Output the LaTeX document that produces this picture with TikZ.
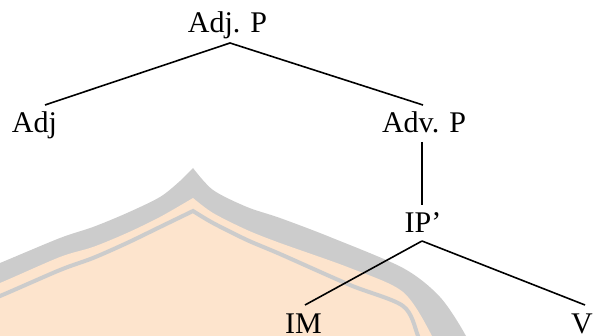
\documentclass[tikz,border=0pt]{standalone}
\usepackage{fontspec}
\setmainfont{Liberation Serif}
\definecolor{wmgray}{RGB}{204,204,204}
\definecolor{wmpeach}{RGB}{253,228,205}
\begin{document}
\begin{tikzpicture}[x=1pt,y=-1pt,
  lbl/.style={font=\fontsize{30}{36}\selectfont, inner sep=0pt, anchor=base},
  edge/.style={line width=1.6pt}]
\useasboundingbox (0,0) rectangle (593,336);
\begin{scope}
\clip (0,0) rectangle (593,336);
\fill[wmgray] plot[smooth,tension=0.5] coordinates {(-30,275) (0,263) (60,238) (93,227) (127,213) (160,197) (180,181) (193,168)}
  -- plot[smooth,tension=0.5] coordinates {(193,168) (213,190) (247,207) (280,218) (330,237) (403,268) (440,297) (466,336) (480,370)}
  -- (480,400) -- (-30,400) -- cycle;
\fill[wmpeach] plot[smooth,tension=0.5] coordinates {(-30,294) (0,283) (60,257) (93,247) (127,233) (160,217) (193,198)}
  -- plot[smooth,tension=0.5] coordinates {(193,198) (213,213) (247,230) (280,243) (350,268) (403,292) (432,336) (445,370)}
  -- (445,400) -- (-30,400) -- cycle;
\draw[wmgray, line width=4pt] plot[smooth,tension=0.5] coordinates {(-30,307) (0,296) (60,270) (93,258) (127,243) (160,227) (193,211)}
  -- plot[smooth,tension=0.5] coordinates {(193,211) (213,223) (247,240) (280,254) (350,285) (403,306) (418,336) (428,370)};
\end{scope}
\node[lbl] (adjp) at (227.5,33) {Adj. P};
\node[lbl] (adj) at (34.5,133) {Adj};
\node[lbl] (advp) at (424,133) {Adv. P};
\node[lbl] (ipp) at (423,233) {IP’};
\node[lbl] (im) at (303.5,333) {IM};
\node[lbl] (v) at (582,333) {V};
\draw[edge] ([shift={(2.5,10)}]adjp.base) -- ([shift={(10.5,-28)}]adj.base);
\draw[edge] ([shift={(2.5,10)}]adjp.base) -- ([shift={(-1,-28)}]advp.base);
\draw[edge] ([shift={(-2,9)}]advp.base) -- ([shift={(-1,-28)}]ipp.base);
\draw[edge] ([shift={(-1,8)}]ipp.base) -- ([shift={(1.5,-28)}]im.base);
\draw[edge] ([shift={(-1,8)}]ipp.base) -- ([shift={(3,-28)}]v.base);
\end{tikzpicture}
\end{document}
